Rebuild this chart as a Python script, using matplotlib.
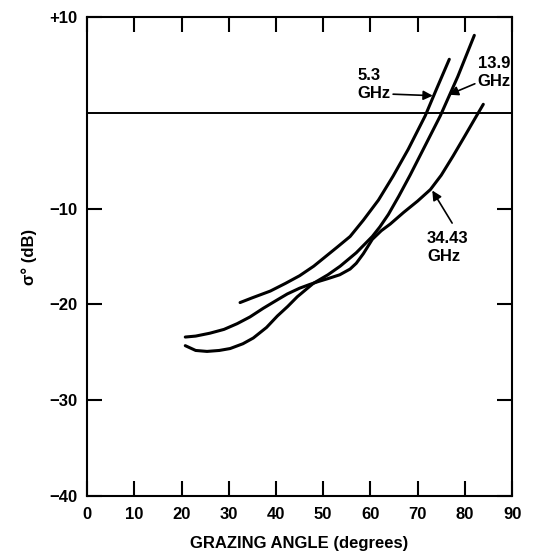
import matplotlib.pyplot as plt

plt.rcParams["font.family"] = ["Liberation Sans", "DejaVu Sans"]
plt.rcParams["font.weight"] = "bold"
plt.rcParams["axes.labelweight"] = "bold"

# curves: grazing angle (deg) vs sigma0 (dB)
angle_5_3 = [32.4, 35, 38.8, 42, 45, 48, 50, 53, 55.7, 58.5, 61.7, 64.8, 68, 71.6, 74, 76.7]
sigma_5_3 = [-19.8, -19.3, -18.6, -17.8, -17.0, -16.0, -15.2, -14.0, -12.9, -11.2, -9.1,
             -6.6, -3.8, -0.3, 2.5, 5.6]

angle_13_9 = [20.8, 23, 25.4, 28, 30.3, 33, 35.2, 38, 40.3, 42.5, 44.5, 47.9, 51, 53.6, 57,
              60.4, 62, 63.8, 66, 68.4, 71.5, 74.8, 78.5, 82]
sigma_13_9 = [-24.3, -24.8, -24.9, -24.8, -24.6, -24.1, -23.5, -22.4, -21.2, -20.2, -19.2,
              -17.8, -16.9, -16.0, -14.6, -12.9, -11.9, -10.6, -8.7, -6.5, -3.5, -0.3, 3.8, 8.1]

angle_34_43 = [20.8, 23, 26, 29, 31.8, 34.5, 37.3, 40, 42.4, 45, 47.2, 49, 51, 53.5, 55.7,
               57, 58.5, 60.4, 62.3, 64.2, 67, 70, 72.7, 75, 77.5, 80, 82, 83.9]
sigma_34_43 = [-23.4, -23.3, -23.0, -22.6, -22.0, -21.3, -20.4, -19.6, -18.9, -18.3, -17.9,
               -17.6, -17.3, -16.9, -16.3, -15.7, -14.7, -13.2, -12.3, -11.6, -10.4, -9.2,
               -8.0, -6.5, -4.5, -2.4, -0.7, 0.9]

x_ticks = [0, 10, 20, 30, 40, 50, 60, 70, 80, 90]
x_labels = ["0", "10", "20", "30", "40", "50", "60", "70", "80", "90"]
y_ticks = [10, -10, -20, -30, -40]
y_labels = ["+10", "\u221210", "\u221220", "\u221230", "\u221240"]

fig = plt.figure(figsize=(5.34, 5.53), dpi=100)
ax = fig.add_axes([0.163, 0.103, 0.796, 0.866])

lw = 2.2
ax.plot(angle_5_3, sigma_5_3, color="black", lw=lw, solid_capstyle="round")
ax.plot(angle_13_9, sigma_13_9, color="black", lw=lw, solid_capstyle="round")
ax.plot(angle_34_43, sigma_34_43, color="black", lw=lw, solid_capstyle="round")
ax.axhline(0, color="black", lw=1.4)

ax.set_xlim(0, 90)
ax.set_ylim(-40, 10)
for s in ax.spines.values():
    s.set_linewidth(1.5)

ax.set_xticks(x_ticks)
ax.set_xticklabels(x_labels)
ax.set_yticks(y_ticks)
ax.set_yticklabels(y_labels)
ax.tick_params(axis="both", direction="in", length=11, width=1.5, labelsize=12,
               top=True, right=True)
ax.tick_params(axis="x", pad=8)
ax.tick_params(axis="y", pad=7)

ax.set_xlabel("GRAZING ANGLE (degrees)", fontsize=12, labelpad=10)
ax.set_ylabel("\u03c3\u00b0 (dB)", fontsize=12, labelpad=9)

arrow = dict(arrowstyle="-|>", color="black", lw=1.2, mutation_scale=14, shrinkA=0, shrinkB=0)
ax.annotate("5.3\nGHz", xy=(73.2, 1.8), xytext=(57.2, 3.0), fontsize=12,
            ha="left", va="center", linespacing=1.25,
            arrowprops=dict(arrow, relpos=(1.0, 0.2)))
ax.annotate("13.9\nGHz", xy=(76.6, 1.9), xytext=(82.7, 4.2), fontsize=12,
            ha="left", va="center", linespacing=1.25,
            arrowprops=dict(arrow, relpos=(0.0, 0.2)))
ax.annotate("34.43\nGHz", xy=(73.1, -8.1), xytext=(72.0, -14.1), fontsize=12,
            ha="left", va="center", linespacing=1.25)
ax.annotate("", xy=(73.1, -8.1), xytext=(77.3, -11.5), arrowprops=arrow)

fig.savefig("out.png", dpi=100)
